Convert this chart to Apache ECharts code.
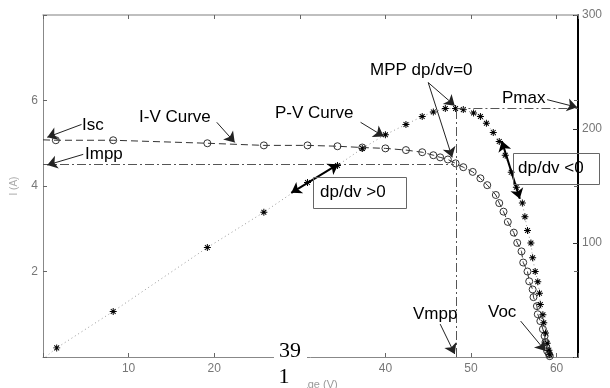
<!DOCTYPE html>
<html>
<head>
<meta charset="utf-8">
<script src="https://cdn.jsdelivr.net/npm/echarts@6/dist/echarts.min.js"></script>
<style>
  html, body { margin: 0; padding: 0; background: #fff; }
  #chart { width: 610px; height: 388px; }
</style>
</head>
<body>
<div id="chart"></div>
<script>
// I-V curve (circles), first point is only where the dashed line meets the axis
const ivVoltage = [0, 1.5, 8.2, 19.2, 25.8, 30.9, 34.4, 37.3, 40.0, 42.4, 44.3, 45.6, 46.4, 47.3, 48.2, 49.1, 50.2, 51.1, 51.9, 52.9, 53.3, 53.8, 54.3, 55.0, 55.4, 55.9, 56.1, 56.6, 56.8, 57.2, 57.3, 57.7, 57.8, 58.1, 58.4, 58.6, 58.7, 58.8, 58.9, 59.1, 59.2];
const ivCurrent = [5.08, 5.07, 5.07, 5.00, 4.95, 4.95, 4.93, 4.90, 4.88, 4.84, 4.79, 4.72, 4.67, 4.62, 4.53, 4.44, 4.33, 4.18, 4.02, 3.79, 3.60, 3.40, 3.16, 2.91, 2.67, 2.47, 2.21, 2.00, 1.77, 1.58, 1.40, 1.19, 1.00, 0.84, 0.65, 0.49, 0.35, 0.23, 0.14, 0.07, 0.02];

// P-V curve (stars), first point is the origin end of the dotted line
const pvVoltage = [0.3, 1.6, 8.2, 19.2, 25.8, 30.9, 34.4, 37.3, 40.0, 42.4, 44.3, 45.6, 47.0, 48.2, 49.1, 50.3, 51.1, 51.8, 52.6, 53.3, 54.0, 54.7, 55.3, 56.0, 56.3, 56.6, 57.0, 57.2, 57.5, 57.8, 58.0, 58.1, 58.4, 58.5, 58.7, 58.9, 59.1, 59.2];
const pvPower = [0, 8, 40, 96, 127, 153, 168, 183, 195, 204, 211, 215, 218, 218, 217, 214, 211, 205, 197, 189, 177, 162, 149, 135, 123, 111, 100, 87, 75, 66, 56, 46, 37, 30, 21, 12, 6, 2];

const vTicks = [10, 20, 30, 40, 50, 60];
const iTicks = [2, 4, 6];
const pTicks = [100, 200, 300];

const vmpp = 48.3;
const impp = 4.51;
const pmax = 218;

const star = "path://M8.6,0H11.4V20H8.6Z M0,8.6H20V11.4H0Z M2.1,4.1L4.1,2.1L17.9,15.9L15.9,17.9Z M15.9,2.1L17.9,4.1L4.1,17.9L2.1,15.9Z";
const font = '"Liberation Sans", Arial, sans-serif';

const grey = "#888";
const labelStyle = { color: "#777", fontSize: 12, fontFamily: font };

function arrow(a, b, both) {
  return [
    { coord: a, symbol: both ? "arrow" : "none",
      lineStyle: both ? { color: "#000", width: 2, type: "solid" } : undefined },
    { coord: b, symbol: "arrow" }
  ];
}

function text(t, x, y, extra) {
  return Object.assign({
    type: "text", z: 100,
    style: { text: t, x: x, y: y, font: "17px " + font, fill: "#000",
      textAlign: "left", textVerticalAlign: "middle", verticalAlign: "middle" }
  }, extra || {});
}

const option = {
  animation: false,
  backgroundColor: "#fff",
  grid: { left: 43, right: 32, top: 15, bottom: 31, containLabel: false, outerBoundsMode: "none" },
  xAxis: [
    {
      type: "value", min: 0, max: 62.5, interval: 10,
      name: "Voltage (V)", nameLocation: "middle", nameGap: 21,
      nameTextStyle: { color: "#999", fontSize: 11, fontFamily: font },
      axisLine: { onZero: false, lineStyle: { color: grey, width: 1 } },
      axisTick: { inside: true, length: 4, lineStyle: { color: "#666" } },
      axisLabel: Object.assign({ margin: 6, formatter: v => vTicks.includes(v) ? String(v) : "" }, labelStyle),
      splitLine: { show: false }
    },
    {
      type: "value", position: "top", min: 0, max: 62.5, interval: 10,
      axisLine: { onZero: false, lineStyle: { color: "#aaa", width: 1.5 } },
      axisTick: { inside: true, length: 4, lineStyle: { color: "#666" } },
      axisLabel: { show: false },
      splitLine: { show: false }
    }
  ],
  yAxis: [
    {
      type: "value", min: 0, max: 8, interval: 2,
      name: "I (A)", nameLocation: "middle", nameGap: 24,
      nameTextStyle: { color: "#aaa", fontSize: 10, fontFamily: font },
      axisLine: { show: true, onZero: false, lineStyle: { color: grey, width: 1 } },
      axisTick: { inside: true, length: 4, lineStyle: { color: "#666" } },
      axisLabel: Object.assign({ margin: 5, formatter: v => iTicks.includes(v) ? String(v) : "" }, labelStyle),
      splitLine: { show: false }
    },
    {
      type: "value", position: "right", min: 0, max: 300, interval: 100,
      name: "P (W)", nameLocation: "middle", nameGap: 27,
      nameTextStyle: { color: "#aaa", fontSize: 10, fontFamily: font },
      axisLine: { show: true, onZero: false, lineStyle: { color: "#000", width: 2 } },
      axisTick: { inside: true, length: 5, lineStyle: { color: "#333" } },
      axisLabel: Object.assign({ margin: 4, formatter: v => pTicks.includes(v) ? String(v) : "" }, labelStyle),
      splitLine: { show: false }
    },
    {
      // left-axis ticks mirrored on the right edge
      type: "value", position: "right", offset: 0, min: 0, max: 8, interval: 2,
      axisLine: { show: false, onZero: false },
      axisTick: { show: true, inside: true, length: 4, lineStyle: { color: "#666" } },
      axisLabel: { show: false },
      splitLine: { show: false }
    }
  ],
  series: [
    {
      name: "I-V Curve", type: "line", xAxisIndex: 0, yAxisIndex: 0, z: 3,
      data: ivVoltage.map((v, i) => i === 0 ? { value: [v, ivCurrent[i]], symbol: "none" } : [v, ivCurrent[i]]),
      symbol: "circle", symbolSize: 7,
      itemStyle: { color: "rgba(0,0,0,0)", borderColor: "#333", borderWidth: 1 },
      lineStyle: { color: "#333", width: 1, type: [7, 4] },
      markLine: {
        silent: true, symbol: ["none", "none"],
        label: { show: false },
        lineStyle: { color: "#555", width: 1, type: [9, 3, 2, 3] },
        data: [
          [{ coord: [0, impp] }, { coord: [vmpp - 0.3, impp] }]
        ]
      }
    },
    {
      name: "P-V Curve", type: "line", xAxisIndex: 0, yAxisIndex: 1, z: 4,
      data: pvVoltage.map((v, i) => i === 0 ? { value: [v, pvPower[i]], symbol: "none" } : [v, pvPower[i]]),
      symbol: star, symbolSize: 7,
      itemStyle: { color: "#000" },
      lineStyle: { color: "#999", width: 1, type: [1, 3] },
      markLine: {
        silent: true, symbol: ["none", "none"],
        label: { show: false },
        lineStyle: { color: "#555", width: 1, type: [9, 3, 2, 3] },
        data: [
          [{ coord: [vmpp, 0] }, { coord: [vmpp, pmax] }],
          [{ coord: [vmpp, pmax] }, { coord: [62.5, pmax] }]
        ]
      }
    },
    {
      name: "annotations", type: "line", xAxisIndex: 0, yAxisIndex: 0, z: 6,
      data: [],
      markLine: {
        silent: true, symbolSize: 10,
        label: { show: false },
        lineStyle: { color: "#222", width: 1, type: "solid" },
        data: [
          arrow([4.5, 5.44], [0.5, 5.14]),      // Isc
          arrow([4.7, 4.74], [0.5, 4.49]),      // Impp
          arrow([20.3, 5.49], [22.4, 5.02]),    // I-V Curve
          arrow([37.1, 5.49], [39.8, 5.16]),    // P-V Curve
          arrow([45.0, 6.42], [48.1, 5.88]),    // MPP -> P
          arrow([45.0, 6.42], [47.8, 4.67]),    // MPP -> I
          arrow([58.9, 6.02], [62.4, 5.84]),    // Pmax
          arrow([46.4, 0.77], [48.1, 0.07]),    // Vmpp
          arrow([55.8, 0.84], [58.7, 0.14]),    // Voc
          arrow([29.0, 3.84], [34.5, 4.51], true),  // dp/dv > 0
          arrow([53.6, 5.05], [55.7, 3.70], true)   // dp/dv < 0
        ]
      }
    }
  ],
  graphic: [
    text("Isc", 82, 125),
    text("Impp", 85, 154),
    text("I-V Curve", 139, 117),
    text("P-V Curve", 275, 113),
    text("MPP dp/dv=0", 370, 70),
    text("Pmax", 502, 98),
    text("Vmpp", 413, 314),
    text("Voc", 488, 312),
    { type: "rect", z: 90, shape: { x: 313.5, y: 177.5, width: 93, height: 31 },
      style: { fill: "none", stroke: "#666", lineWidth: 1 } },
    text("dp/dv >0", 320, 192),
    { type: "rect", z: 90, shape: { x: 513.5, y: 153.5, width: 86, height: 31 },
      style: { fill: "none", stroke: "#666", lineWidth: 1 } },
    text("dp/dv <0", 518, 168),
    // page-number overlay covering part of the axis title
    { type: "rect", z: 110, shape: { x: 274, y: 340, width: 33, height: 48 },
      style: { fill: "#fff" } },
    text("39", 290, 351, { z: 120, style: { text: "39", x: 290, y: 351, font: '22px "Liberation Serif", serif', fill: "#000", textAlign: "center", textVerticalAlign: "middle", verticalAlign: "middle" } }),
    text("1", 284, 377, { z: 120, style: { text: "1", x: 284, y: 377, font: '22px "Liberation Serif", serif', fill: "#000", textAlign: "center", textVerticalAlign: "middle", verticalAlign: "middle" } })
  ]
};

const myChart = echarts.init(document.getElementById("chart"));
myChart.setOption(option);
</script>
</body>
</html>
